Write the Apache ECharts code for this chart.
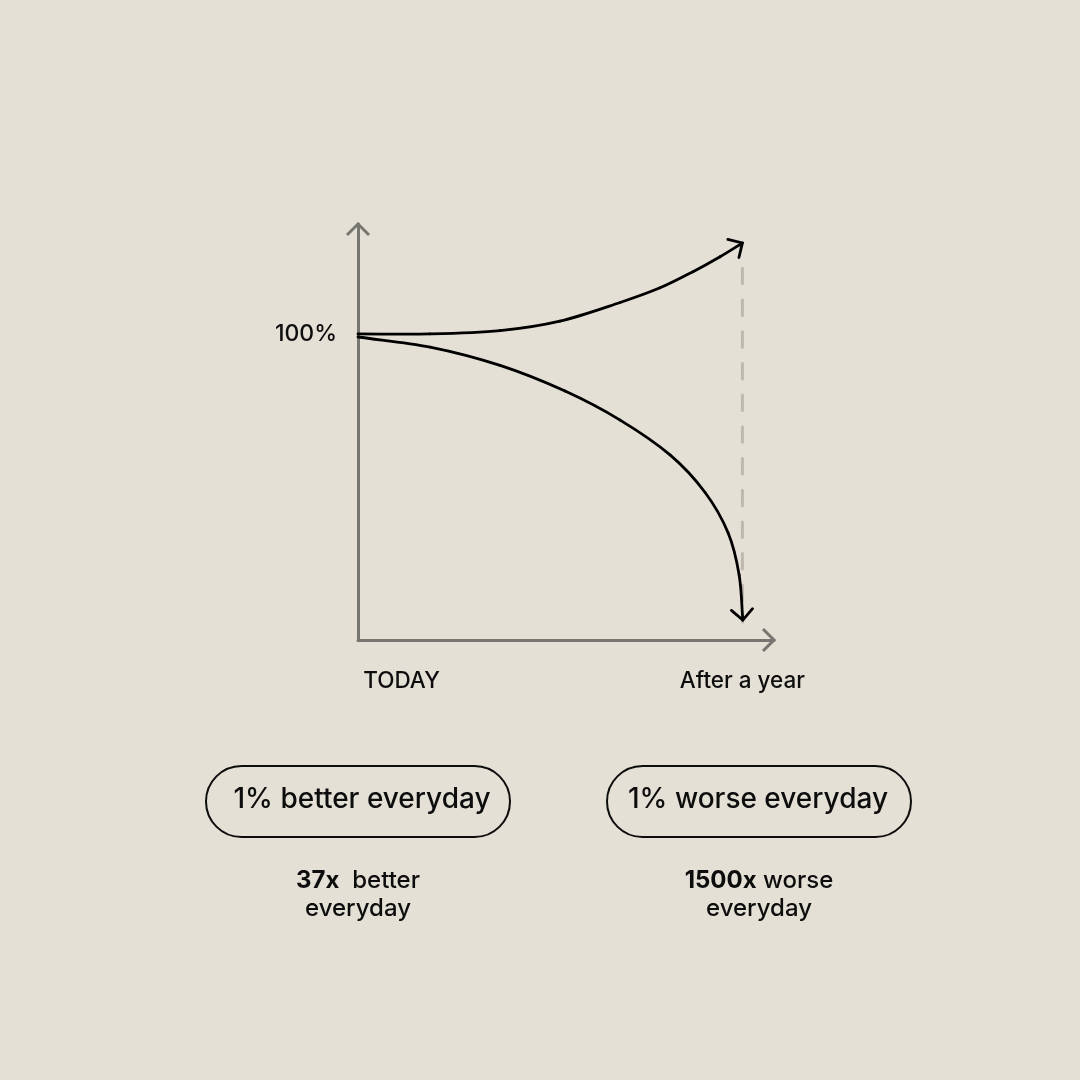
<!DOCTYPE html>
<html>
<head>
<meta charset="utf-8">
<script src="https://cdn.jsdelivr.net/npm/echarts@6/dist/echarts.min.js"></script>
<style>
html,body{margin:0;padding:0;background:#e4e0d5;}
#c{width:1080px;height:1080px;}
</style>
</head>
<body>
<div id="c"></div>
<script>
// ---- data ----
var xTickDays = [0, 365];
var xTickLabels = ['TODAY', 'After a year'];
var yTickValues = [100];
var yTickLabels = ['100%'];

var betterDays   = [0, 68.4, 134.9, 191.8, 248.9, 286.8, 318.1, 343.8, 365];
var betterValues = [100.2, 100.2, 101.3, 104.4, 110.5, 115.3, 120.6, 125.5, 130.0];

var worseDays   = [0, 68.4, 134.9, 196.6, 248.9, 296.3, 329.6, 351.4, 361.9, 365.4];
var worseValues = [99.2, 95.9, 89.9, 81.5, 72.0, 60.6, 48.3, 35.1, 21.3, 6.5];

var guideDay = 365;
var guideRange = [121.7, 5.9];

var pillLabels = ['1% better everyday', '1% worse everyday'];
var resultBold = ['37x', '1500x'];
var resultText = [' better', ' worse'];
var resultLine2 = ['everyday', 'everyday'];

// ---- helpers (shapes only) ----
function chevron(a, t) {
  var hw = t / 2, s = hw / Math.SQRT2, q = hw * Math.SQRT2;
  var ox = a + s, oy = q;
  function p(x, y) { return (x + ox).toFixed(2) + ',' + (y + oy).toFixed(2); }
  var d = 'path://M' + p(-a - s, a - s) + 'L' + p(0, -q) + 'L' + p(a + s, a - s) +
          'L' + p(a - s, a + s) + 'L' + p(0, q) + 'L' + p(-a + s, a + s) + 'Z';
  return { path: d, size: [2 * (a + s), a + s + q], back: (a - s) / 2 };
}
var axisArrow = chevron(11, 3);

function pairs(xs, ys) { return xs.map(function (x, i) { return [x, ys[i]]; }); }
function dist(a, b) { return Math.sqrt((a[0] - b[0]) * (a[0] - b[0]) + (a[1] - b[1]) * (a[1] - b[1])); }

// smooth curve through screen points (Catmull-Rom style cubic segments)
function curveElements(pts, stroke, width, armLen) {
  var s = 1 / 3, n = pts.length, kids = [], lastCp2 = null;
  for (var i = 0; i < n - 1; i++) {
    var p0 = pts[i - 1] || pts[i], p1 = pts[i], p2 = pts[i + 1], p3 = pts[i + 2] || pts[i + 1];
    var d01 = dist(p0, p1), d12 = dist(p1, p2), d23 = dist(p2, p3);
    var r1 = d12 / ((d01 + d12) || 1), r2 = d12 / ((d12 + d23) || 1);
    var c1 = [p1[0] + (p2[0] - p0[0]) * r1 * s, p1[1] + (p2[1] - p0[1]) * r1 * s];
    var c2 = [p2[0] - (p3[0] - p1[0]) * r2 * s, p2[1] - (p3[1] - p1[1]) * r2 * s];
    lastCp2 = c2;
    kids.push({
      type: 'bezierCurve',
      shape: { x1: p1[0], y1: p1[1], x2: p2[0], y2: p2[1], cpx1: c1[0], cpy1: c1[1], cpx2: c2[0], cpy2: c2[1] },
      style: { stroke: stroke, lineWidth: width, fill: 'none', lineCap: 'round' },
      silent: true
    });
  }
  var tip = pts[n - 1];
  var dx = tip[0] - lastCp2[0], dy = tip[1] - lastCp2[1], len = Math.sqrt(dx * dx + dy * dy) || 1;
  dx /= len; dy /= len;
  function arm(sign) {
    var a = Math.PI * 3 / 4 * sign, c = Math.cos(a), sn = Math.sin(a);
    return [tip[0] + armLen * (dx * c - dy * sn), tip[1] + armLen * (dx * sn + dy * c)];
  }
  kids.push({
    type: 'polyline',
    shape: { points: [arm(1), tip, arm(-1)] },
    style: { stroke: stroke, lineWidth: width, fill: 'none', lineCap: 'round', lineJoin: 'miter' },
    silent: true
  });
  return kids;
}

function curveSeries(name, days, values, z, withGuide) {
  return {
    name: name, type: 'custom', z: z, clip: false, silent: true,
    data: pairs(days, values),
    encode: { x: 0, y: 1 },
    renderItem: function (params, api) {
      if (params.dataIndex !== 0) return { type: 'group', children: [] };
      var pts = days.map(function (d, i) { return api.coord([d, values[i]]); });
      var kids = [];
      if (withGuide) {
        var g0 = api.coord([guideDay, guideRange[0]]), g1 = api.coord([guideDay, guideRange[1]]);
        kids.push({
          type: 'line', silent: true,
          shape: { x1: g0[0], y1: g0[1], x2: g1[0], y2: g1[1] },
          style: { stroke: '#bdb9ae', lineWidth: 3, lineDash: [15.5, 16.2], lineCap: 'round' }
        });
      }
      kids = kids.concat(curveElements(pts, '#000', 2.8, 15));
      return { type: 'group', children: kids };
    }
  };
}

var ink = '#0d0d0d';
var axisGray = '#777670';
var font = 'Inter';

var chart = echarts.init(document.getElementById('c'), null, { renderer: 'canvas' });
chart.setOption({
  backgroundColor: '#e4e0d5',
  animation: false,
  grid: { left: 358, right: 306, top: 224, bottom: 440 },
  xAxis: {
    type: 'value', min: 0, max: 395,
    axisLine: {
      show: true, symbol: ['none', axisArrow.path], symbolSize: axisArrow.size,
      symbolOffset: [0, -axisArrow.back],
      lineStyle: { color: axisGray, width: 3 }
    },
    axisTick: { show: false },
    splitLine: { show: false },
    axisLabel: {
      customValues: xTickDays,
      margin: 30,
      color: ink, fontFamily: font, fontSize: 22.5, fontWeight: 500,
      formatter: function (v) {
        var i = xTickDays.indexOf(v);
        if (i < 0) return '';
        return i === 0 ? '{t|' + xTickLabels[i] + '}' : '{a|' + xTickLabels[i] + '}';
      },
      rich: {
        t: { fontFamily: font, fontSize: 22.5, fontWeight: 500, color: ink, padding: [0, 0, 0, 87] },
        a: { fontFamily: font, fontSize: 22.5, fontWeight: 500, color: ink }
      }
    }
  },
  yAxis: {
    type: 'value', min: 0, max: 136.2,
    axisLine: {
      show: true, symbol: ['none', axisArrow.path], symbolSize: axisArrow.size,
      symbolOffset: [0, -axisArrow.back],
      lineStyle: { color: axisGray, width: 3 }
    },
    axisTick: { show: false },
    splitLine: { show: false },
    axisLabel: {
      customValues: yTickValues,
      margin: 21,
      color: ink, fontFamily: font, fontSize: 23, fontWeight: 500,
      formatter: function (v) {
        var i = yTickValues.indexOf(v);
        return i < 0 ? '' : yTickLabels[i];
      }
    }
  },
  series: [
    curveSeries('better', betterDays, betterValues, 2, true),
    curveSeries('worse', worseDays, worseValues, 3, false)
  ],
  graphic: [
    { type: 'rect', shape: { x: 206, y: 766, width: 304, height: 71, r: 35.5 },
      style: { fill: 'none', stroke: ink, lineWidth: 2 } },
    { type: 'rect', shape: { x: 607, y: 766, width: 304, height: 71, r: 35.5 },
      style: { fill: 'none', stroke: ink, lineWidth: 2 } },
    { type: 'text', x: 362, y: 800,
      style: { text: pillLabels[0], fontFamily: font, fontSize: 28, fontWeight: 500, fill: ink, align: 'center', verticalAlign: 'middle' } },
    { type: 'text', x: 758, y: 800,
      style: { text: pillLabels[1], fontFamily: font, fontSize: 28, fontWeight: 500, fill: ink, align: 'center', verticalAlign: 'middle' } },
    { type: 'text', x: 358, y: 895,
      style: { text: '{b|' + resultBold[0] + '} ' + resultText[0] + '\n' + resultLine2[0],
        fontFamily: font, fontSize: 24, fontWeight: 500, lineHeight: 28, fill: ink, align: 'center', verticalAlign: 'middle',
        rich: { b: { fontFamily: font, fontSize: 24, lineHeight: 28, fontWeight: 'bold', fill: ink } } } },
    { type: 'text', x: 759, y: 895,
      style: { text: '{b|' + resultBold[1] + '}' + resultText[1] + '\n' + resultLine2[1],
        fontFamily: font, fontSize: 24, fontWeight: 500, lineHeight: 28, fill: ink, align: 'center', verticalAlign: 'middle',
        rich: { b: { fontFamily: font, fontSize: 24, lineHeight: 28, fontWeight: 'bold', fill: ink } } } }
  ]
});
</script>
</body>
</html>
